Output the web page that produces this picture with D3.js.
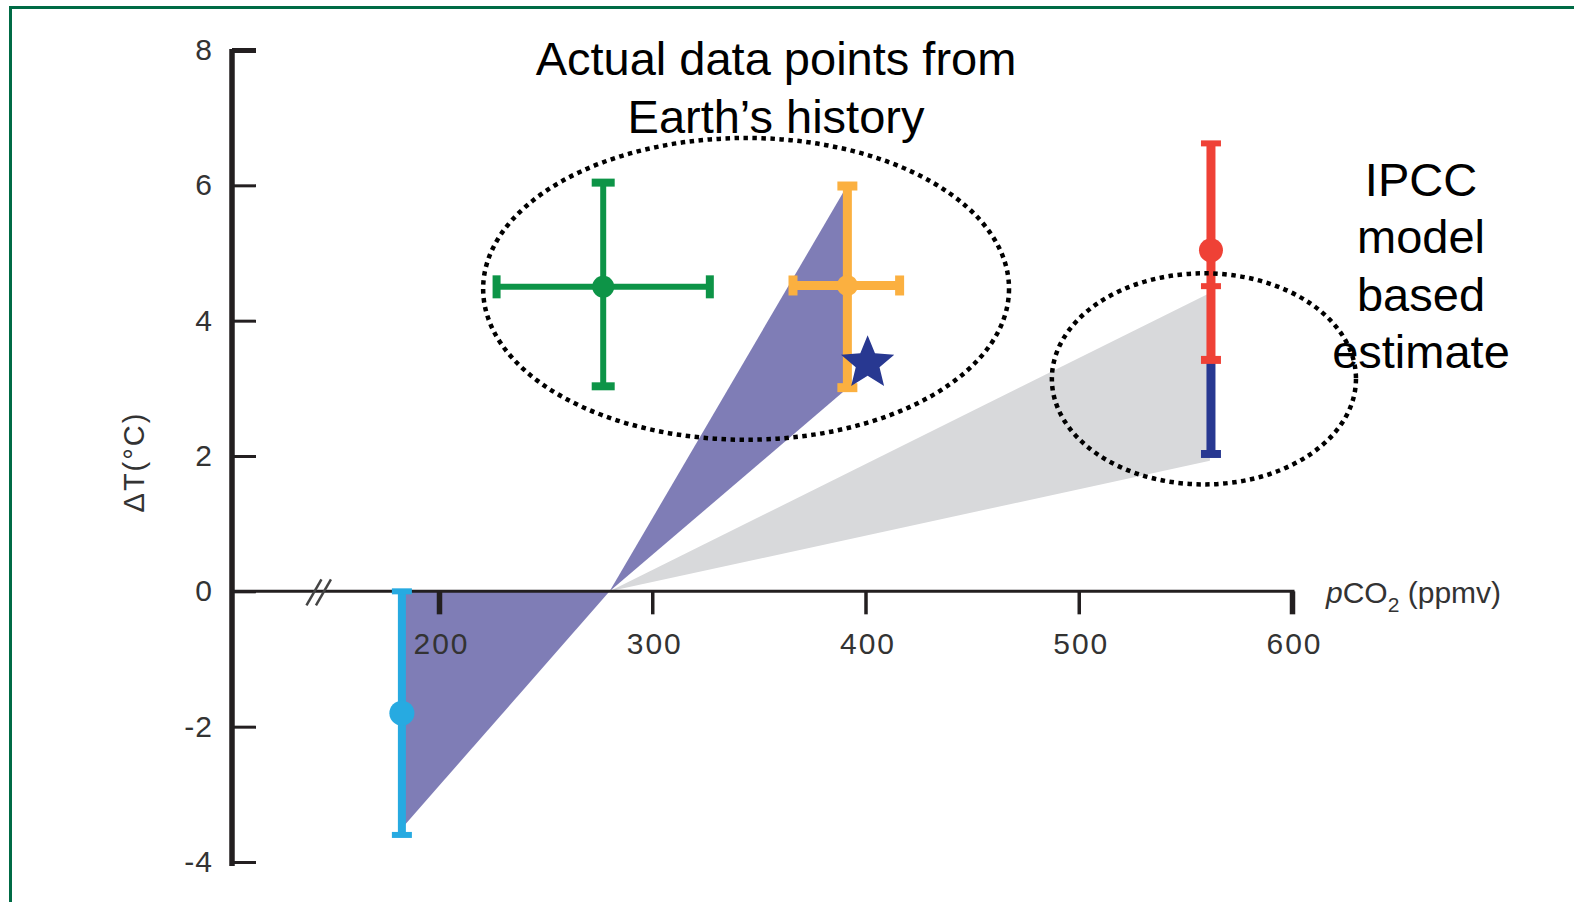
<!DOCTYPE html>
<html><head><meta charset="utf-8">
<script src="https://cdn.jsdelivr.net/npm/d3@7"></script>
<style>html,body{margin:0;padding:0;background:#fff;overflow:hidden}</style>
</head><body>
<svg id="chart" width="1574" height="902"></svg>
<script>
// ---------- data ----------
const xTicks = [200, 300, 400, 500, 600];
const yTicks = [-4, -2, 0, 2, 4, 6, 8];
const xLabel = ["p", "CO", "2", " (ppmv)"];
const yLabel = "ΔT(°C)";
const titleLines = ["Actual data points from", "Earth’s history"];
const ipccLines = ["IPCC", "model", "based", "estimate"];

// paleo data points with error bars
const barNames = ["green", "orange", "cyan"];
const barX = [277, 391.5, 182.6];
const barY = [4.5, 4.52, -1.8];
const barXLow = [227, 366, null];
const barXHigh = [327, 416, null];
const barYLow = [3.03, 3.01, -3.6];
const barYHigh = [6.04, 5.99, 0];

// IPCC model-based bar
const ipccX = 562;
const ipccRed = [3.42, 6.62];
const ipccRedMid = 4.51;
const ipccRedDot = 5.04;
const ipccBlue = [2.03, 3.42];

// shaded wedges
const purpleUpper = [[280, 0], [391.5, 6], [391.5, 3]];
const purpleLower = [[280, 0], [182.6, 0], [182.6, -3.5]];
const grayWedge = [[280, 0], [561.5, 4.41], [561.5, 1.93]];

// star
const starPoint = [401, 3.37];

// dotted ellipses (data units)
const ellCx = [344, 558.7];
const ellCy = [4.47, 3.14];
const ellRx = [123.3, 71.3];
const ellRy = [2.23, 1.56];

const axisBreakX = 143;

// ---------- styles ----------
const barColors = {green: "#0d9447", orange: "#fbb040", cyan: "#27aae1"};
const barWidths = {green: 6, orange: 9, cyan: 8};
const capLen = {green: 23, orange: 20, cyan: 20};
const capThick = {green: 8, orange: 9, cyan: 6};
const dotR = {green: 11, orange: 10.5, cyan: 12.5};
const red = "#ef4136", navy = "#283891";
const fontFam = "'Liberation Sans', Arial, sans-serif";

const svg = d3.select("#chart");

// frame
svg.append("line").attr("x1", 9).attr("x2", 1574).attr("y1", 7.5).attr("y2", 7.5)
  .attr("stroke", "#006b45").attr("stroke-width", 3);
svg.append("line").attr("x1", 10.5).attr("x2", 10.5).attr("y1", 6).attr("y2", 902)
  .attr("stroke", "#006b45").attr("stroke-width", 3);

const x = d3.scaleLinear().domain([200, 600]).range([439, 1292]);
const y = d3.scaleLinear().domain([-4, 8]).range([862, 50]);
const axisX = 232;
const line = d3.line().x(d => x(d[0])).y(d => y(d[1]));

// wedges
svg.append("path").attr("d", line(grayWedge) + "Z").attr("fill", "#d8d9db");
svg.append("path").attr("d", line(purpleUpper) + "Z").attr("fill", "#7f7db6");
svg.append("path").attr("d", line(purpleLower) + "Z").attr("fill", "#7f7db6");

// axes
const yAxis = d3.axisLeft(y).tickValues(yTicks).tickSizeInner(-24).tickSizeOuter(0)
  .tickPadding(19).tickFormat(d3.format("d"));
const gy = svg.append("g").attr("transform", `translate(${axisX},0)`).call(yAxis);
gy.select(".domain").remove();
gy.selectAll(".tick line").attr("stroke", "#231f20").attr("stroke-width", d => d === 8 ? 5 : 3);
gy.selectAll(".tick text").attr("font-family", fontFam).attr("font-size", 30)
  .attr("fill", "#333").attr("letter-spacing", 1).text(d => d < 0 ? "-" + Math.abs(d) : d);
svg.append("line").attr("x1", axisX).attr("x2", axisX).attr("y1", y(8) - 1).attr("y2", y(-4) + 4)
  .attr("stroke", "#231f20").attr("stroke-width", 5.5);

const xAxis = d3.axisBottom(x).tickValues(xTicks).tickSize(23).tickSizeOuter(0).tickPadding(18);
const gx = svg.append("g").attr("transform", `translate(0,${y(0)})`).call(xAxis);
gx.select(".domain").remove();
gx.selectAll(".tick line").attr("stroke", "#231f20").attr("stroke-width", d => (d === 200 || d === 600) ? 5.5 : 3.5);
gx.selectAll(".tick text").attr("font-family", fontFam).attr("font-size", 30)
  .attr("fill", "#333").attr("letter-spacing", 2).attr("dx", 2);
svg.append("line").attr("x1", axisX).attr("x2", x(600) + 2.5).attr("y1", y(0)).attr("y2", y(0))
  .attr("stroke", "#231f20").attr("stroke-width", 3);

// axis break
[0, 9.5].forEach(off => {
  svg.append("line").attr("x1", x(axisBreakX) - 11 + off).attr("y1", y(0) + 14)
    .attr("x2", x(axisBreakX) + 4 + off).attr("y2", y(0) - 12)
    .attr("stroke", "#444").attr("stroke-width", 2.5);
});

// axis labels
const xl = svg.append("text").attr("x", 1326).attr("y", 603)
  .attr("font-family", fontFam).attr("font-size", 30).attr("fill", "#333");
xl.append("tspan").attr("font-style", "italic").text(xLabel[0]);
xl.append("tspan").text(xLabel[1]);
xl.append("tspan").attr("font-size", 21).attr("dy", 9).text(xLabel[2]);
xl.append("tspan").attr("dy", -9).text(xLabel[3]);

svg.append("text").attr("transform", "translate(134,462) rotate(-90)")
  .attr("text-anchor", "middle").attr("dy", "0.35em")
  .attr("font-family", fontFam).attr("font-size", 29).attr("letter-spacing", 2)
  .attr("fill", "#333").text(yLabel);

// paleo error bars
barNames.forEach((n, i) => {
  const g = svg.append("g");
  const c = barColors[n];
  g.append("line").attr("x1", x(barX[i])).attr("x2", x(barX[i]))
    .attr("y1", y(barYLow[i])).attr("y2", y(barYHigh[i])).attr("stroke", c).attr("stroke-width", barWidths[n]);
  [barYLow[i], barYHigh[i]].forEach(v => {
    g.append("line").attr("x1", x(barX[i]) - capLen[n] / 2).attr("x2", x(barX[i]) + capLen[n] / 2)
      .attr("y1", y(v)).attr("y2", y(v)).attr("stroke", c).attr("stroke-width", capThick[n]);
  });
  if (barXLow[i] !== null) {
    g.append("line").attr("x1", x(barXLow[i])).attr("x2", x(barXHigh[i]))
      .attr("y1", y(barY[i])).attr("y2", y(barY[i])).attr("stroke", c).attr("stroke-width", barWidths[n]);
    [barXLow[i], barXHigh[i]].forEach(v => {
      g.append("line").attr("x1", x(v)).attr("x2", x(v))
        .attr("y1", y(barY[i]) - capLen[n] / 2).attr("y2", y(barY[i]) + capLen[n] / 2)
        .attr("stroke", c).attr("stroke-width", capThick[n]);
    });
  }
  g.append("circle").attr("cx", x(barX[i])).attr("cy", y(barY[i])).attr("r", dotR[n]).attr("fill", c);
});

// IPCC bar
const ig = svg.append("g");
ig.append("line").attr("x1", x(ipccX)).attr("x2", x(ipccX)).attr("y1", y(ipccBlue[0])).attr("y2", y(ipccBlue[1]))
  .attr("stroke", navy).attr("stroke-width", 9);
ig.append("line").attr("x1", x(ipccX) - 10).attr("x2", x(ipccX) + 10).attr("y1", y(ipccBlue[0])).attr("y2", y(ipccBlue[0]))
  .attr("stroke", navy).attr("stroke-width", 8);
ig.append("line").attr("x1", x(ipccX)).attr("x2", x(ipccX)).attr("y1", y(ipccRed[0])).attr("y2", y(ipccRed[1]))
  .attr("stroke", red).attr("stroke-width", 9);
[ipccRed[0], ipccRedMid, ipccRed[1]].forEach(v => {
  ig.append("line").attr("x1", x(ipccX) - 10).attr("x2", x(ipccX) + 10).attr("y1", y(v)).attr("y2", y(v))
    .attr("stroke", red).attr("stroke-width", v === ipccRed[0] ? 8 : 6);
});
ig.append("circle").attr("cx", x(ipccX)).attr("cy", y(ipccRedDot)).attr("r", 12).attr("fill", red);

// star
function starPath(R, r) {
  const pts = [];
  for (let k = 0; k < 10; k++) {
    const a = -Math.PI / 2 + k * Math.PI / 5;
    const rad = k % 2 === 0 ? R : r;
    pts.push([rad * Math.cos(a), rad * Math.sin(a)]);
  }
  return "M" + pts.map(p => p.join(",")).join("L") + "Z";
}
svg.append("path").attr("d", starPath(28, 12.5))
  .attr("transform", `translate(${x(starPoint[0])},${y(starPoint[1])})`).attr("fill", navy);

// dotted ellipses
ellCx.forEach((cx, i) => {
  svg.append("ellipse").attr("cx", x(cx)).attr("cy", y(ellCy[i]))
    .attr("rx", x(cx + ellRx[i]) - x(cx)).attr("ry", y(ellCy[i] - ellRy[i]) - y(ellCy[i]))
    .attr("fill", "none").attr("stroke", "#000").attr("stroke-width", 4.5)
    .attr("stroke-dasharray", "4.5,4.5");
});

// annotation texts
svg.append("g").selectAll("text").data(titleLines).join("text")
  .attr("x", 776).attr("y", (d, i) => 75 + i * 58).attr("text-anchor", "middle")
  .attr("font-family", fontFam).attr("font-size", 47).attr("fill", "#000").text(d => d);
svg.append("g").selectAll("text").data(ipccLines).join("text")
  .attr("x", 1421).attr("y", (d, i) => 196 + i * 57.3).attr("text-anchor", "middle")
  .attr("font-family", fontFam).attr("font-size", 47).attr("fill", "#000").text(d => d);
</script>
</body></html>
